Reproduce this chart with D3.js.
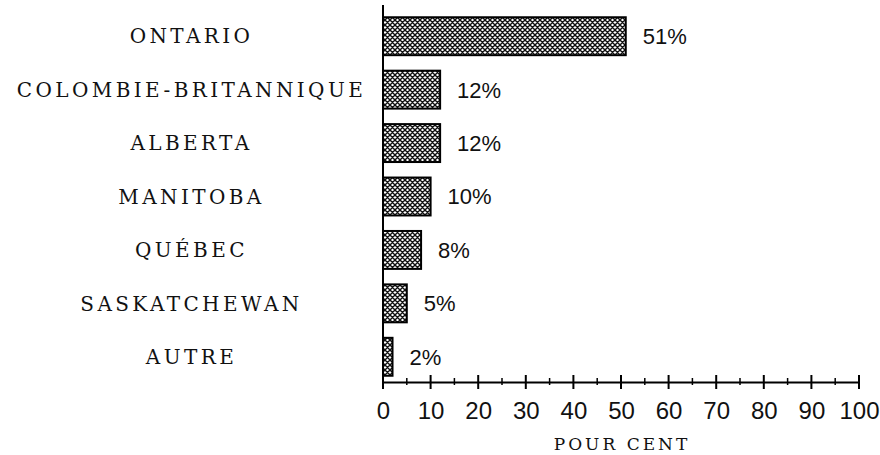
<!DOCTYPE html>
<html><head><meta charset="utf-8">
<script src="https://cdn.jsdelivr.net/npm/d3@7"></script>
<style>body{margin:0;background:#fff}</style>
</head><body>
<script>
const categories = ["ONTARIO","COLOMBIE-BRITANNIQUE","ALBERTA","MANITOBA","QUÉBEC","SASKATCHEWAN","AUTRE"];
const values = [51,12,12,10,8,5,2];
const valueLabels = ["51%","12%","12%","10%","8%","5%","2%"];
const tickValues = [0,10,20,30,40,50,60,70,80,90,100];
const axisTitle = "POUR CENT";

const W=880,H=455;
const svg=d3.select("body").append("svg").attr("width",W).attr("height",H);
const defs=svg.append("defs");
const pat=defs.append("pattern").attr("id","hatch").attr("patternUnits","userSpaceOnUse")
  .attr("width",5).attr("height",5);
pat.append("rect").attr("width",5).attr("height",5).attr("fill","#fff");
pat.append("path").attr("d","M0,0 L5,5 M5,0 L0,5 M-1,4 L1,6 M4,-1 L6,1 M-1,1 L1,-1 M4,6 L6,4").attr("stroke","#111").attr("stroke-width",1.4);

const x=d3.scaleLinear().domain([0,100]).range([383,859]);
const y=d3.scaleBand().domain(categories).range([9.5,383.5]).paddingInner(0.29).paddingOuter(0.145);
const axisY=382;

// bars
svg.selectAll("rect.bar").data(values).join("rect").attr("class","bar")
  .attr("x",x(0)).attr("y",(d,i)=>y(categories[i]))
  .attr("width",d=>x(d)-x(0)).attr("height",y.bandwidth())
  .attr("fill","url(#hatch)").attr("stroke","#000").attr("stroke-width",2);

// value labels
svg.selectAll("text.val").data(values).join("text").attr("class","val")
  .attr("x",d=>x(d)+17).attr("y",(d,i)=>y(categories[i])+y.bandwidth()/2)
  .attr("dy","0.36em").attr("font-family","Liberation Sans").attr("font-size",22)
  .attr("fill","#111").text((d,i)=>valueLabels[i]);

// category labels
svg.selectAll("text.cat").data(categories).join("text").attr("class","cat")
  .attr("x",191.5).attr("y",d=>y(d)+y.bandwidth()/2).attr("dy","0.36em")
  .attr("text-anchor","middle").attr("font-family","DejaVu Serif").attr("font-size",20)
  .attr("letter-spacing",3.4).attr("fill","#111").text(d=>d);

// y axis line
svg.append("line").attr("x1",x(0)).attr("x2",x(0)).attr("y1",5).attr("y2",axisY)
  .attr("stroke","#000").attr("stroke-width",2);

// x axis
const xAxis=d3.axisBottom(x).tickValues(tickValues).tickSize(0).tickPadding(20).tickFormat(d3.format("d"));
const g=svg.append("g").attr("transform",`translate(0,${axisY})`).call(xAxis);
g.select(".domain").attr("stroke","#000").attr("stroke-width",2);
g.selectAll(".tick text").attr("font-family","Liberation Sans").attr("font-size",24).attr("fill","#111");
g.selectAll("line.major").data(tickValues).join("line").attr("class","major")
  .attr("x1",d=>x(d)).attr("x2",d=>x(d)).attr("y1",-7).attr("y2",7).attr("stroke","#000").attr("stroke-width",2);
const minor=tickValues.slice(0,-1).map(d=>d+5);
g.selectAll("line.minor").data(minor).join("line").attr("class","minor")
  .attr("x1",d=>x(d)).attr("x2",d=>x(d)).attr("y1",-4).attr("y2",3).attr("stroke","#000").attr("stroke-width",1.5);

svg.append("text").attr("x",622).attr("y",444).attr("dy","0.35em").attr("text-anchor","middle")
  .attr("font-family","DejaVu Serif").attr("font-size",17).attr("letter-spacing",3)
  .attr("fill","#111").text(axisTitle);
</script>
</body></html>
